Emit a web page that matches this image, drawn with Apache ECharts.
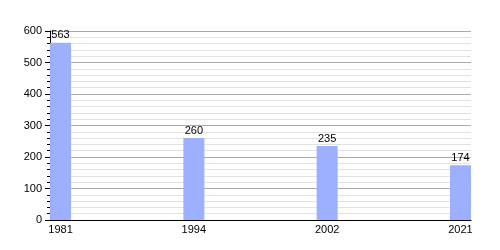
<!DOCTYPE html>
<html><head><meta charset="utf-8">
<script src="https://cdn.jsdelivr.net/npm/echarts@6/dist/echarts.min.js"></script>
<style>html,body{margin:0;background:#fff}#c{width:500px;height:250px}</style>
</head><body><div id="c"></div>
<script>
const years = ['1981', '1994', '2002', '2021'];
const population = [563, 260, 235, 174];
const yMin = 0, yMax = 600, yStep = 100;

const chart = echarts.init(document.getElementById('c'), null, {renderer: 'canvas'});
const font = 'Liberation Sans, Arial, sans-serif';
chart.setOption({
  animation: false,
  backgroundColor: '#fff',
  grid: {left: 50, right: 29, top: 31, bottom: 30, containLabel: false},
  xAxis: {
    type: 'value',
    min: -0.079, max: 3.079,
    axisLine: {show: true, onZero: false, lineStyle: {color: '#000', width: 1}},
    axisTick: {show: false},
    splitLine: {show: false},
    axisLabel: {
      customValues: years.map((y, i) => i),
      formatter: v => years[Math.round(v)] || '',
      color: '#000', fontSize: 11, fontFamily: font, margin: 4
    }
  },
  yAxis: {
    type: 'value',
    min: yMin, max: yMax, interval: yStep,
    axisLine: {show: true, onZero: false, lineStyle: {color: '#000', width: 1}},
    axisTick: {show: true, length: 5, lineStyle: {color: '#000'}},
    minorTick: {show: true, splitNumber: 5, length: 3, lineStyle: {color: '#000'}},
    splitLine: {show: true, lineStyle: {color: '#aaaaaa', width: 1}},
    minorSplitLine: {show: true, lineStyle: {color: '#e2e2e2', width: 1}},
    axisLabel: {color: '#000', fontSize: 11, fontFamily: font, margin: 8}
  },
  series: [{
    type: 'bar',
    data: population.map((v, i) => [i, v]),
    barWidth: 21,
    itemStyle: {color: '#9dafff'},
    label: {show: true, position: 'top', distance: 2, color: '#000', fontSize: 11, fontFamily: font,
      formatter: p => p.value[1]}
  }]
});
</script></body></html>
